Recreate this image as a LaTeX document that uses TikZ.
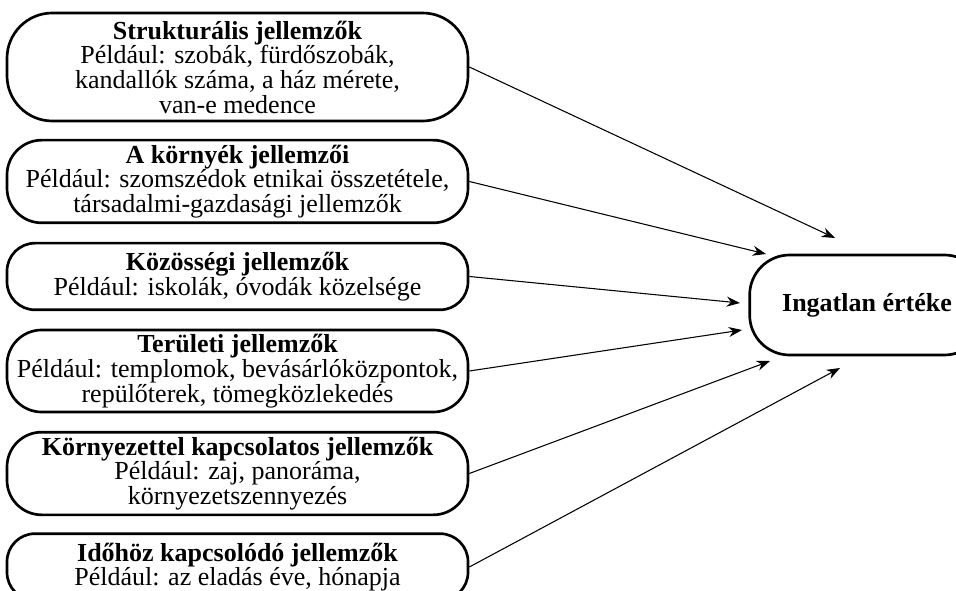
\documentclass[tikz,border=0pt]{standalone}
\usepackage{fontspec}
\setmainfont{Liberation Serif}
\usetikzlibrary{arrows.meta}
\tikzset{
  factor/.style={draw, line width=2pt, rounded corners=#1, minimum width=345.75pt,
    align=center, inner sep=2pt, font=\fontsize{19.5}{18.5}\selectfont},
  factor/.default=21pt,
  influence/.style={-{Stealth[length=10pt,width=7.5pt]}, line width=0.8pt}
}
\begin{document}
\begin{tikzpicture}[x=0.75pt, y=-0.75pt]
  \useasboundingbox (0,0) rectangle (956,591);
  % left: the groups of characteristics
  \node[factor=34pt, minimum height=81pt] (b1) at (237.5,67)
    {\textbf{Strukturális jellemzők}\\Például: szobák, fürdőszobák,\\kandallók száma, a ház mérete,\\van-e medence};
  \node[factor=26pt, minimum height=62pt] (b2) at (237.5,181.5)
    {\textbf{A környék jellemzői}\\Például: szomszédok etnikai összetétele,\\társadalmi-gazdasági jellemzők};
  \node[factor, minimum height=50pt] (b3) at (237.5,276.5)
    {\textbf{Közösségi jellemzők}\\Például: iskolák, óvodák közelsége};
  \node[factor=26pt, minimum height=61.5pt] (b4) at (237.5,371)
    {\textbf{Területi jellemzők}\\Például: templomok, bevásárlóközpontok,\\repülőterek, tömegközlekedés};
  \node[factor=26pt, minimum height=62pt] (b5) at (237.5,473.5)
    {\textbf{Környezettel kapcsolatos jellemzők}\\Például: zaj, panoráma,\\környezetszennyezés};
  \node[factor, minimum height=50pt] (b6) at (237.5,567)
    {\textbf{Időhöz kapcsolódó jellemzők}\\Például: az eladás éve, hónapja};
  % right: the value
  \node[factor=30pt, minimum width=176pt, minimum height=75pt] (value) at (867,305)
    {\textbf{Ingatlan értéke}};
  \coordinate (tip1) at (835,238);
  \coordinate (tip2) at (766,254);
  \coordinate (tip3) at (740,303);
  \coordinate (tip4) at (742,330);
  \coordinate (tip5) at (770,361);
  \coordinate (tip6) at (840,368);
  \foreach \i in {1,...,6}
    \draw[influence] (b\i.east) -- (tip\i);
\end{tikzpicture}
\end{document}
